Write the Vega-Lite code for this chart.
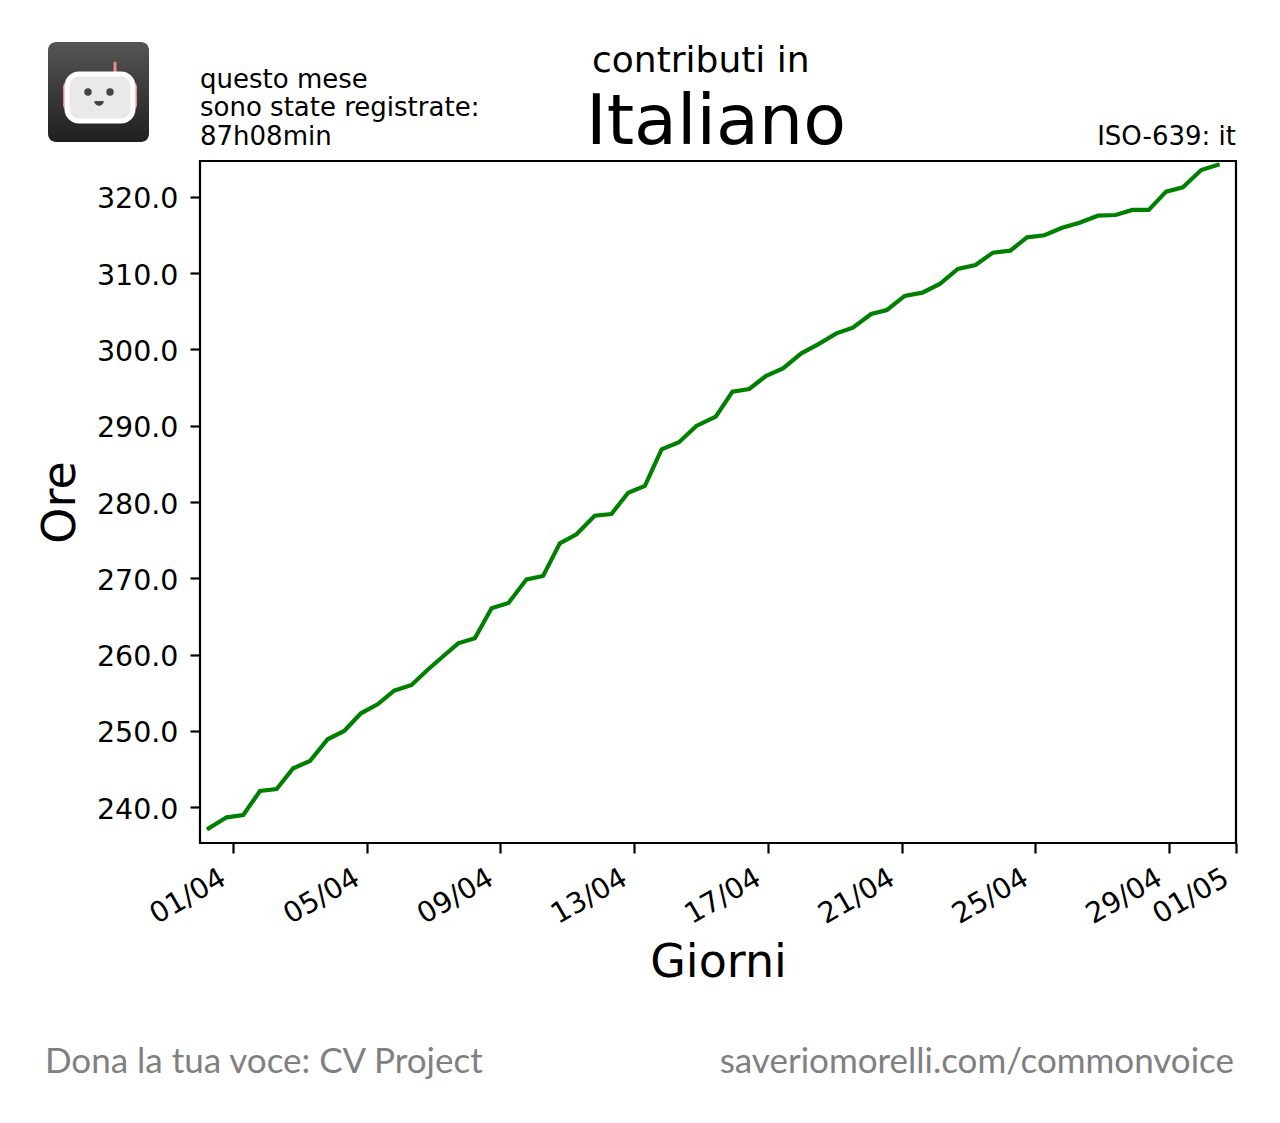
{
  "$schema": "https://vega.github.io/schema/vega-lite/v6.json",
  "autosize": {"type": "none"},
  "padding": {"left": 200, "top": 161, "right": 44, "bottom": 280},
  "width": 1036,
  "height": 682,
  "background": "white",
  "layer": [
    {
      "data": {
        "values": [
          {"t": "2021-03-31T06:35", "ore": 237.2},
          {"t": "2021-03-31T19:30", "ore": 238.65},
          {"t": "2021-04-01T07:24", "ore": 238.95},
          {"t": "2021-04-01T19:22", "ore": 242.1},
          {"t": "2021-04-02T07:21", "ore": 242.36},
          {"t": "2021-04-02T19:16", "ore": 245.08},
          {"t": "2021-04-03T07:15", "ore": 246.03},
          {"t": "2021-04-03T19:57", "ore": 248.88},
          {"t": "2021-04-04T07:51", "ore": 249.97},
          {"t": "2021-04-04T19:51", "ore": 252.29},
          {"t": "2021-04-05T07:49", "ore": 253.47},
          {"t": "2021-04-05T19:44", "ore": 255.25},
          {"t": "2021-04-06T08:12", "ore": 256.0},
          {"t": "2021-04-06T19:12", "ore": 257.9},
          {"t": "2021-04-07T06:29", "ore": 259.7},
          {"t": "2021-04-07T17:38", "ore": 261.47},
          {"t": "2021-04-08T05:38", "ore": 262.12},
          {"t": "2021-04-08T17:37", "ore": 266.06},
          {"t": "2021-04-09T05:46", "ore": 266.75},
          {"t": "2021-04-09T18:43", "ore": 269.86},
          {"t": "2021-04-10T06:37", "ore": 270.3},
          {"t": "2021-04-10T18:37", "ore": 274.58},
          {"t": "2021-04-11T06:36", "ore": 275.76},
          {"t": "2021-04-11T19:41", "ore": 278.2},
          {"t": "2021-04-12T07:41", "ore": 278.43},
          {"t": "2021-04-12T19:41", "ore": 281.22},
          {"t": "2021-04-13T07:41", "ore": 282.1},
          {"t": "2021-04-13T19:41", "ore": 286.91},
          {"t": "2021-04-14T08:10", "ore": 287.83},
          {"t": "2021-04-14T20:38", "ore": 289.97},
          {"t": "2021-04-15T10:34", "ore": 291.19},
          {"t": "2021-04-15T22:34", "ore": 294.47},
          {"t": "2021-04-16T10:34", "ore": 294.82},
          {"t": "2021-04-16T22:48", "ore": 296.56},
          {"t": "2021-04-17T10:48", "ore": 297.53},
          {"t": "2021-04-18T00:00", "ore": 299.5},
          {"t": "2021-04-18T12:00", "ore": 300.68},
          {"t": "2021-04-19T01:12", "ore": 302.12},
          {"t": "2021-04-19T12:58", "ore": 302.86},
          {"t": "2021-04-20T02:10", "ore": 304.66},
          {"t": "2021-04-20T13:26", "ore": 305.18},
          {"t": "2021-04-21T02:10", "ore": 307.02},
          {"t": "2021-04-21T14:53", "ore": 307.45},
          {"t": "2021-04-22T03:22", "ore": 308.59},
          {"t": "2021-04-22T16:19", "ore": 310.56},
          {"t": "2021-04-23T05:02", "ore": 311.08},
          {"t": "2021-04-23T17:31", "ore": 312.7},
          {"t": "2021-04-24T06:00", "ore": 312.96},
          {"t": "2021-04-24T18:00", "ore": 314.71},
          {"t": "2021-04-25T06:29", "ore": 314.98},
          {"t": "2021-04-25T19:12", "ore": 315.97},
          {"t": "2021-04-26T07:41", "ore": 316.63},
          {"t": "2021-04-26T20:53", "ore": 317.55},
          {"t": "2021-04-27T09:36", "ore": 317.64},
          {"t": "2021-04-27T21:36", "ore": 318.3},
          {"t": "2021-04-28T09:22", "ore": 318.3},
          {"t": "2021-04-28T21:50", "ore": 320.7},
          {"t": "2021-04-29T09:50", "ore": 321.27},
          {"t": "2021-04-29T23:02", "ore": 323.54},
          {"t": "2021-04-30T10:48", "ore": 324.2}
        ]
      },
      "mark": {"type": "line", "color": "#008000", "strokeWidth": 4.2, "strokeCap": "square"},
      "encoding": {
        "x": {
          "field": "t",
          "type": "temporal",
          "title": "Giorni",
          "scale": {
            "domain": [
              {"year": 2021, "month": 3, "date": 31, "hours": 0, "minutes": 20},
              {"year": 2021, "month": 5, "date": 1}
            ],
            "nice": false
          },
          "axis": {
            "values": [
              {"year": 2021, "month": 4, "date": 1},
              {"year": 2021, "month": 4, "date": 5},
              {"year": 2021, "month": 4, "date": 9},
              {"year": 2021, "month": 4, "date": 13},
              {"year": 2021, "month": 4, "date": 17},
              {"year": 2021, "month": 4, "date": 21},
              {"year": 2021, "month": 4, "date": 25},
              {"year": 2021, "month": 4, "date": 29},
              {"year": 2021, "month": 5, "date": 1}
            ],
            "format": "%d/%m",
            "labelAngle": -30,
            "labelAlign": "right",
            "labelBaseline": "top",
            "labelPadding": 10,
            "labelOffset": -17,
            "labelOverlap": false,
            "labelFlush": false,
            "titlePadding": 12
          }
        },
        "y": {
          "field": "ore",
          "type": "quantitative",
          "title": "Ore",
          "scale": {"domain": [235.28, 324.72], "nice": false, "zero": false},
          "axis": {
            "values": [240, 250, 260, 270, 280, 290, 300, 310, 320],
            "format": ".1f",
            "labelPadding": 12,
            "labelOffset": 2,
            "titlePadding": 12
          }
        }
      }
    },
    {
      "data": {"values": [{}]},
      "mark": {"type": "rect", "cornerRadius": 8, "color": {"gradient": "linear", "x1": 0, "y1": 0, "x2": 0, "y2": 1, "stops": [{"offset": 0, "color": "#555555"}, {"offset": 1, "color": "#1f1f1f"}]}},
      "encoding": {
        "x": {"datum": {"year": 2021, "month": 3, "date": 26, "hours": 11, "minutes": 14}, "type": "temporal"},
        "x2": {"datum": {"year": 2021, "month": 3, "date": 29, "hours": 11, "minutes": 44}},
        "y": {"datum": 340.33, "type": "quantitative"},
        "y2": {"datum": 327.21}
      }
    },
    {
      "data": {"values": [{}]},
      "mark": {"type": "rect", "cornerRadius": 5, "color": "#f08a8a"},
      "encoding": {
        "x": {"datum": {"year": 2021, "month": 3, "date": 26, "hours": 21, "minutes": 59}, "type": "temporal"},
        "x2": {"datum": {"year": 2021, "month": 3, "date": 29, "hours": 3, "minutes": 8}},
        "y": {"datum": 335.08, "type": "quantitative"},
        "y2": {"datum": 331.41}
      }
    },
    {
      "data": {"values": [{}]},
      "mark": {"type": "rule", "color": "#f08a8a", "strokeWidth": 3, "strokeCap": "round"},
      "encoding": {
        "x": {"datum": {"year": 2021, "month": 3, "date": 28, "hours": 11, "minutes": 20}, "type": "temporal"},
        "y": {"datum": 337.57, "type": "quantitative"},
        "y2": {"datum": 336.0}
      }
    },
    {
      "data": {"values": [{}]},
      "mark": {"type": "rect", "cornerRadius": 12, "color": "#e9e9e9", "stroke": "white", "strokeWidth": 5},
      "encoding": {
        "x": {"datum": {"year": 2021, "month": 3, "date": 27, "hours": 0, "minutes": 52}, "type": "temporal"},
        "x2": {"datum": {"year": 2021, "month": 3, "date": 29, "hours": 0, "minutes": 14}},
        "y": {"datum": 336.13, "type": "quantitative"},
        "y2": {"datum": 329.97}
      }
    },
    {
      "data": {"values": [{}]},
      "mark": {"type": "point", "filled": true, "color": "#444444", "size": 55, "opacity": 1},
      "encoding": {
        "x": {"datum": {"year": 2021, "month": 3, "date": 27, "hours": 15, "minutes": 56}, "type": "temporal"},
        "y": {"datum": 333.77, "type": "quantitative"}
      }
    },
    {
      "data": {"values": [{}]},
      "mark": {"type": "point", "filled": true, "color": "#444444", "size": 55, "opacity": 1},
      "encoding": {
        "x": {"datum": {"year": 2021, "month": 3, "date": 28, "hours": 7, "minutes": 44}, "type": "temporal"},
        "y": {"datum": 333.77, "type": "quantitative"}
      }
    },
    {
      "data": {"values": [{}]},
      "mark": {"type": "point", "filled": true, "color": "#444444", "size": 90, "opacity": 1, "shape": "M-1,0 A1,1 0 0 0 1,0 Z"},
      "encoding": {
        "x": {"datum": {"year": 2021, "month": 3, "date": 27, "hours": 23, "minutes": 50}, "type": "temporal"},
        "y": {"datum": 332.59, "type": "quantitative"}
      }
    },
    {
      "data": {"values": [{}]},
      "mark": {"type": "text", "align": "left", "baseline": "alphabetic", "font": "DejaVu Sans", "fontSize": 36, "color": "black"},
      "encoding": {
        "x": {"datum": {"year": 2021, "month": 4, "date": 11, "hours": 17, "minutes": 44}, "type": "temporal"},
        "y": {"datum": 336.39, "type": "quantitative"},
        "text": {"value": "contributi in"}
      }
    },
    {
      "data": {"values": [{}]},
      "mark": {"type": "text", "align": "left", "baseline": "alphabetic", "font": "DejaVu Sans", "fontSize": 70, "color": "black"},
      "encoding": {
        "x": {"datum": {"year": 2021, "month": 4, "date": 11, "hours": 13, "minutes": 26}, "type": "temporal"},
        "y": {"datum": 326.95, "type": "quantitative"},
        "text": {"value": "Italiano"}
      }
    },
    {
      "data": {"values": [{}]},
      "mark": {"type": "text", "align": "left", "baseline": "top", "font": "DejaVu Sans", "fontSize": 26, "lineHeight": 28.5, "color": "black"},
      "encoding": {
        "x": {"datum": {"year": 2021, "month": 3, "date": 31, "hours": 0, "minutes": 20}, "type": "temporal"},
        "y": {"datum": 337.1, "type": "quantitative"},
        "text": {"value": ["questo mese", "sono state registrate:", "87h08min"]}
      }
    },
    {
      "data": {"values": [{}]},
      "mark": {"type": "text", "align": "right", "baseline": "alphabetic", "font": "DejaVu Sans", "fontSize": 26, "color": "black"},
      "encoding": {
        "x": {"datum": {"year": 2021, "month": 5, "date": 1}, "type": "temporal"},
        "y": {"datum": 326.82, "type": "quantitative"},
        "text": {"value": "ISO-639: it"}
      }
    },
    {
      "data": {"values": [{}]},
      "mark": {"type": "text", "align": "left", "baseline": "alphabetic", "font": "Lato", "fontSize": 35, "color": "#808080"},
      "encoding": {
        "x": {"datum": {"year": 2021, "month": 3, "date": 26, "hours": 9, "minutes": 2}, "type": "temporal"},
        "y": {"datum": 205.11, "type": "quantitative"},
        "text": {"value": "Dona la tua voce: CV Project"}
      }
    },
    {
      "data": {"values": [{}]},
      "mark": {"type": "text", "align": "right", "baseline": "alphabetic", "font": "Lato", "fontSize": 35, "color": "#808080"},
      "encoding": {
        "x": {"datum": {"year": 2021, "month": 4, "date": 30, "hours": 22, "minutes": 34}, "type": "temporal"},
        "y": {"datum": 205.11, "type": "quantitative"},
        "text": {"value": "saveriomorelli.com/commonvoice"}
      }
    }
  ],
  "config": {
    "font": "DejaVu Sans",
    "view": {"stroke": "black", "strokeWidth": 2.2},
    "axis": {
      "grid": false,
      "domain": false,
      "ticks": true,
      "tickColor": "black",
      "tickWidth": 2.2,
      "tickSize": 10,
      "labelFont": "DejaVu Sans",
      "labelFontSize": 28.5,
      "labelColor": "black",
      "titleFont": "DejaVu Sans",
      "titleFontSize": 46,
      "titleFontWeight": "normal",
      "titleColor": "black"
    }
  }
}
